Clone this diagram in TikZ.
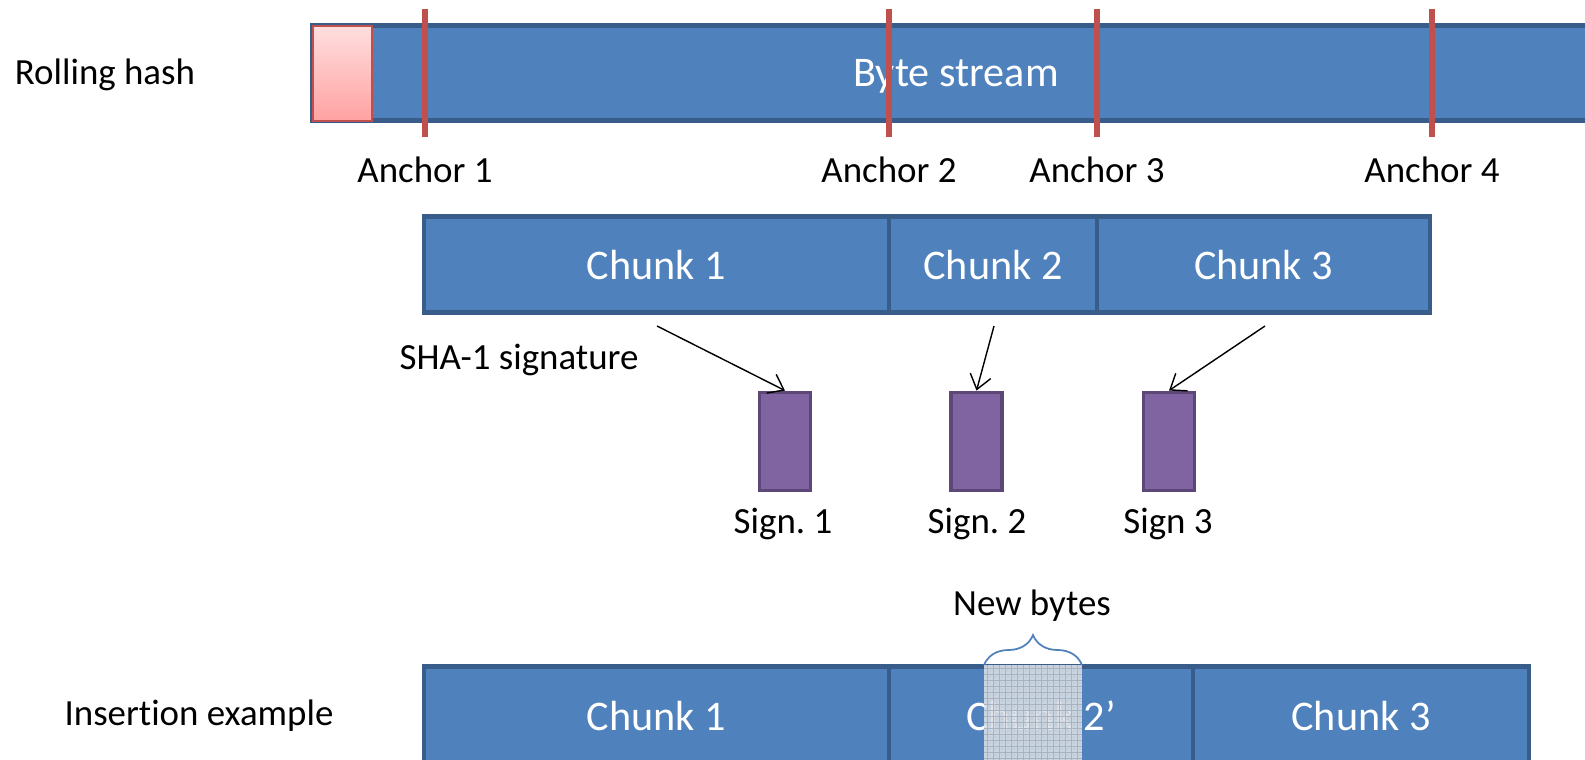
\documentclass[tikz,border=0pt]{standalone}
\usepackage{fontspec}
\setmainfont[Ligatures=NoCommon]{Carlito}
\usetikzlibrary{arrows.meta,decorations.pathreplacing}
\definecolor{blockfill}{HTML}{4F81BD}
\definecolor{blockline}{HTML}{385D8A}
\definecolor{anchorred}{HTML}{C0504D}
\definecolor{sigfill}{HTML}{8064A2}
\definecolor{sigline}{HTML}{5C4776}
\definecolor{winTop}{HTML}{FFDEDE}
\definecolor{winBot}{HTML}{FFA2A2}
\definecolor{hatchbg}{HTML}{DCE1E8}
\definecolor{hatchline}{HTML}{A9B2C0}
\frenchspacing
\tikzset{
  block/.style={draw=blockline, line width=2.6pt, fill=blockfill, text=white,
    inner sep=0pt, text depth=0pt, font=\fontsize{24}{28}\selectfont},
  sigbox/.style={draw=sigline, line width=2.2pt, fill=sigfill, inner sep=0pt,
    minimum width=1.02cm, minimum height=1.96cm},
  label/.style={text=black, inner sep=0pt, font=\fontsize{21}{25}\selectfont},
  anchorline/.style={anchorred, line width=2.9pt},
  sigarrow/.style={black, line width=0.8pt, -{Straight Barb[length=8pt,width=12pt]}}
}
\begin{document}
\begin{tikzpicture}[x=0.02cm, y=-0.02cm]
\useasboundingbox (0,0) rectangle (1585,760);
\clip (0,0) rectangle (1585,760);

% byte stream with the rolling-hash window
\node[block, minimum width=25.75cm, minimum height=1.9cm] (stream) at (956,73) {Byte stream};
\shade[top color=winTop, bottom color=winBot, draw=anchorred, line width=1.5pt]
  (313,26) rectangle (372,121);
\node[label, anchor=center] (rolling) at (105,75) {Rolling hash};

% anchors
\foreach \ax/\n in {425/1, 889/2, 1097/3, 1432/4}{
  \coordinate (at\n) at (\ax,9);
  \coordinate (ab\n) at (\ax,137);
  \draw[anchorline] (at\n) -- (ab\n);
  \node[label] (anchor\n) at (\ax,170) {Anchor \n};
}

% chunks
\node[block, minimum width=9.3cm, minimum height=1.92cm] (c1) at (656.5,264.5) {Chunk 1};
\node[block, minimum width=4.16cm, minimum height=1.92cm] (c2) at (993,264.5) {Chunk 2};
\node[block, minimum width=6.66cm, minimum height=1.92cm] (c3) at (1263.5,264.5) {Chunk 3};

% signatures
\node[label] (sha) at (519,360) {SHA-1 signature};
\node[sigbox] (s1) at (785,441.5) {};
\node[sigbox] (s2) at (976.5,441.5) {};
\node[sigbox] (s3) at (1169,441.5) {};
\node[label] (sl1) at (783,524) {Sign. 1};
\node[label] (sl2) at (977,524) {Sign. 2};
\node[label] (sl3) at (1168,524) {Sign 3};

\coordinate (f1) at (657,326);
\coordinate (f2) at (994,326);
\coordinate (f3) at (1265,326);
\draw[sigarrow] (f1) -- (s1.north);
\draw[sigarrow] (f2) -- (s2.north);
\draw[sigarrow] (f3) -- (s3.north);

% insertion example
\node[label] (insert) at (199,716) {Insertion example};
\node[block, minimum width=9.3cm, minimum height=1.98cm] (i1) at (656.5,716) {Chunk 1};
\node[block, minimum width=6.08cm, minimum height=1.98cm] (i2) at (1041,716) {Chunk 2’};
\node[block, minimum width=6.72cm, minimum height=1.98cm] (i3) at (1361,716) {Chunk 3};

% inserted bytes
\fill[hatchbg, fill opacity=0.88] (984,665) rectangle (1082,770);
\begin{scope}
  \clip (984,665) rectangle (1082,770);
  \foreach \hx in {987,993,...,1083}{
    \draw[hatchline, line width=0.5pt] (\hx,665) -- (\hx,770);
  }
  \foreach \hy in {668,674,...,770}{
    \draw[hatchline, line width=0.5pt] (984,\hy) -- (1082,\hy);
  }
  \foreach \hx in {990,996,...,1083}{
    \foreach \hy in {671,677,...,770}{
      \fill[hatchline!70] (\hx,\hy) circle (0.7pt);
    }
  }
\end{scope}
\coordinate (bl) at (984,665);
\coordinate (br) at (1082,665);
\draw[blockfill, line width=1pt, decoration={brace, amplitude=0.6cm}, decorate] (bl) -- (br);
\node[label] (newbytes) at (1032,606) {New bytes};
\end{tikzpicture}
\end{document}
